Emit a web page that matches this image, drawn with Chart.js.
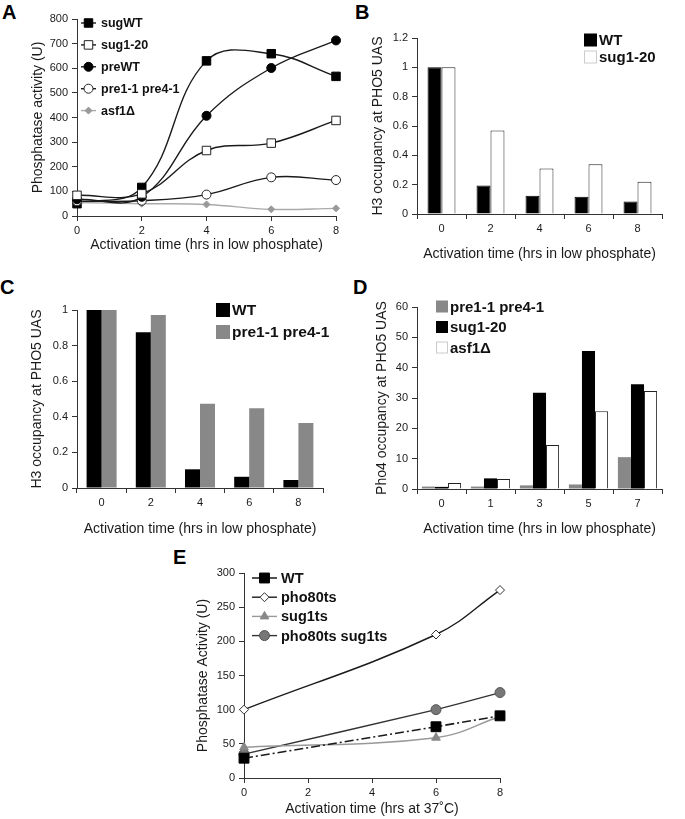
<!DOCTYPE html>
<html><head><meta charset="utf-8">
<script src="https://cdn.jsdelivr.net/npm/chart.js@4/dist/chart.umd.min.js"></script>
<style>
html,body{margin:0;padding:0;background:#fff}
body{width:685px;height:819px;position:relative;overflow:hidden;font-family:"Liberation Sans",Arial,sans-serif}
canvas{position:absolute}
.lbl{position:absolute;font:bold 20px/20px "Liberation Sans",Arial,sans-serif;color:#000}
</style></head><body>
<div class="lbl" style="left:2px;top:2px">A</div>
<div class="lbl" style="left:355px;top:2px">B</div>
<div class="lbl" style="left:0px;top:277px">C</div>
<div class="lbl" style="left:353px;top:277px">D</div>
<div class="lbl" style="left:173px;top:547px">E</div>
<canvas id="cA"></canvas>
<canvas id="cB"></canvas>
<canvas id="cC"></canvas>
<canvas id="cD"></canvas>
<canvas id="cE"></canvas>
<script>
// ---------- DATA ----------
const A_times = [0, 2, 4, 6, 8];
const A_sugWT = [50, 116, 630, 659, 567];
const A_sug120 = [84, 90, 266, 296, 388];
const A_preWT = [68, 78, 407, 601, 713];
const A_pre11 = [60, 62, 87, 157, 146];
const A_asf1 = [55, 50, 47, 27, 31];

const B_cats = ['0', '2', '4', '6', '8'];
const B_WT = [1.0, 0.195, 0.125, 0.118, 0.085];
const B_sug120 = [1.0, 0.57, 0.31, 0.34, 0.22];

const C_cats = ['0', '2', '4', '6', '8'];
const C_WT = [1.0, 0.875, 0.105, 0.063, 0.045];
const C_pre = [1.0, 0.972, 0.473, 0.448, 0.365];

const D_cats = ['0', '1', '3', '5', '7'];
const D_pre = [0.8, 0.8, 1.2, 1.5, 10.5];
const D_sug120 = [0.7, 3.5, 31.7, 45.5, 34.5];
const D_asf1 = [2.0, 3.3, 14.5, 25.6, 32.3];

const E_times = [0, 6, 8];
const E_WT = [29, 75, 91];
const E_pho80 = [100, 210, 275];
const E_sug1ts = [45, 59, 90];
const E_both = [35, 100, 125];

// ---------- SETUP ----------
const F = '"Liberation Sans", Arial, sans-serif';
Chart.defaults.font.family = F;
Chart.defaults.color = '#1a1a1a';
Chart.defaults.animation = false;

function marker(ctx, style, r, x, y) {
  ctx.beginPath();
  if (style === 'rect') {
    const s = Math.SQRT1_2 * r;
    ctx.rect(x - s, y - s, 2 * s, 2 * s);
  } else if (style === 'rectRot') {
    ctx.moveTo(x - r, y); ctx.lineTo(x, y - r); ctx.lineTo(x + r, y); ctx.lineTo(x, y + r); ctx.closePath();
  } else if (style === 'triangle') {
    const a = -Math.PI / 2;
    for (let i = 0; i < 3; i++) {
      const ang = a + i * 2 * Math.PI / 3;
      const px = x + Math.cos(ang) * r, py = y + Math.sin(ang) * r;
      if (i === 0) ctx.moveTo(px, py); else ctx.lineTo(px, py);
    }
    ctx.closePath();
  } else {
    ctx.arc(x, y, r, 0, Math.PI * 2);
  }
  ctx.fill();
  ctx.stroke();
}

const customLegend = {
  id: 'customLegend',
  afterDraw(chart, args, L) {
    if (!L || !L.order) return;
    const ctx = chart.ctx;
    const ox = L.ox, oy = L.oy;
    ctx.save();
    ctx.font = 'bold ' + L.size + 'px ' + F;
    ctx.textBaseline = 'middle';
    ctx.textAlign = 'left';
    L.order.forEach((di, i) => {
      const ds = chart.data.datasets[di];
      const y = L.y + i * L.dy - oy;
      if (L.kind === 'line') {
        ctx.save();
        ctx.strokeStyle = ds.borderColor;
        ctx.lineWidth = ds.borderWidth || 1.5;
        ctx.setLineDash(ds.borderDash || []);
        ctx.beginPath(); ctx.moveTo(L.x0 - ox, y); ctx.lineTo(L.x1 - ox, y); ctx.stroke();
        ctx.setLineDash([]);
        ctx.fillStyle = ds.pointBackgroundColor;
        ctx.strokeStyle = ds.pointBorderColor;
        ctx.lineWidth = ds.pointBorderWidth || 1;
        marker(ctx, ds.pointStyle, ds.pointRadius, (L.x0 + L.x1) / 2 - ox, y);
        ctx.restore();
      } else {
        ctx.fillStyle = ds.backgroundColor;
        ctx.fillRect(L.x0 - ox, y - L.sq / 2, L.sq, L.sq);
        if (ds.legendBorder) {
          ctx.strokeStyle = ds.legendBorder; ctx.lineWidth = 1;
          ctx.strokeRect(L.x0 - ox + 0.5, y - L.sq / 2 + 0.5, L.sq - 1, L.sq - 1);
        }
      }
      ctx.fillStyle = '#111';
      ctx.fillText(ds.label, L.tx - ox, y + 1);
    });
    ctx.restore();
  }
};
Chart.register(customLegend);

function axisBase() {
  return {
    grid: { display: true, drawOnChartArea: false, drawTicks: true, tickLength: 5, color: '#333', lineWidth: 1 },
    border: { display: true, color: '#333', width: 1 }
  };
}

const numFmt = v => String(Math.round(v * 1000) / 1000);

function makeChart(id, box, area, type, data, xOpt, yOpt, xTitle, yTitle, legend) {
  const cv = document.getElementById(id);
  cv.style.left = box.left + 'px'; cv.style.top = box.top + 'px';
  cv.width = box.w; cv.height = box.h;
  cv.style.width = box.w + 'px'; cv.style.height = box.h + 'px';
  const x = Object.assign(axisBase(), xOpt);
  x.ticks = Object.assign({ font: { size: 11 }, color: '#1a1a1a', padding: 3, maxRotation: 0, autoSkip: false }, xOpt.ticks || {});
  x.title = { display: true, text: xTitle, font: { size: 14 }, color: '#1a1a1a', padding: 0 };
  x.afterFit = s => { s.height = box.top + box.h - area.b; };
  const y = Object.assign(axisBase(), yOpt);
  y.position = 'left';
  y.ticks = Object.assign({ font: { size: 11 }, color: '#1a1a1a', padding: 4, callback: numFmt }, yOpt.ticks || {});
  y.title = { display: true, text: yTitle, font: { size: 14 }, color: '#1a1a1a', padding: 0 };
  y.afterFit = s => { s.width = area.l - box.left; };
  legend.ox = box.left; legend.oy = box.top;
  return new Chart(cv, {
    type, data,
    options: {
      responsive: false, devicePixelRatio: 1, animation: false,
      layout: { padding: { left: 0, bottom: 0, top: area.t - box.top, right: box.left + box.w - area.r } },
      plugins: { legend: { display: false }, tooltip: { enabled: false }, customLegend: legend },
      scales: { x, y }
    }
  });
}

function xy(xs, ys) { return xs.map((v, i) => ({ x: v, y: ys[i] })); }

function lineDs(label, xs, ys, o) {
  return Object.assign({
    label, data: xy(xs, ys), borderColor: '#1a1a1a', borderWidth: 1.4, tension: 0.4, clip: false,
    pointStyle: 'circle', pointRadius: 4.5, pointBorderWidth: 1,
    pointBackgroundColor: '#000', pointBorderColor: '#000', fill: false
  }, o);
}

// ---------- PANEL A ----------
makeChart('cA',
  { left: 30, top: 0, w: 315, h: 254 }, { l: 77, t: 19, r: 336, b: 216 }, 'line',
  { datasets: [
    lineDs('sugWT', A_times, A_sugWT, { pointStyle: 'rect', pointRadius: 6, order: 1 }),
    lineDs('sug1-20', A_times, A_sug120, { pointStyle: 'rect', pointRadius: 6, pointBackgroundColor: '#fff', pointBorderColor: '#222' }),
    lineDs('preWT', A_times, A_preWT, {}),
    lineDs('pre1-1 pre4-1', A_times, A_pre11, { pointBackgroundColor: '#fff', pointBorderColor: '#222' }),
    lineDs('asf1\u0394', A_times, A_asf1, { pointStyle: 'rectRot', pointRadius: 3.5, borderColor: '#aaa', pointBackgroundColor: '#999', pointBorderColor: '#999' })
  ]},
  { type: 'linear', min: 0, max: 8, ticks: { stepSize: 2 } },
  { type: 'linear', min: 0, max: 800, ticks: { stepSize: 100 } },
  'Activation time (hrs in low phosphate)', 'Phosphatase activity (U)',
  { kind: 'line', order: [0, 1, 2, 3, 4], x0: 81, x1: 96, tx: 101, y: 23, dy: 21.9, size: 12.5 }
);

// ---------- PANEL B ----------
makeChart('cB',
  { left: 370, top: 0, w: 315, h: 263 }, { l: 417, t: 38, r: 662, b: 214 }, 'bar',
  { labels: B_cats, datasets: [
    { label: 'WT', data: B_WT, backgroundColor: '#000', borderColor: '#000', borderWidth: 1, categoryPercentage: 0.57, barPercentage: 1 },
    { label: 'sug1-20', data: B_sug120, backgroundColor: '#fff', borderColor: '#222', borderWidth: 1, categoryPercentage: 0.57, barPercentage: 1, legendBorder: '#ccc' }
  ]},
  { type: 'category' },
  { type: 'linear', min: 0, max: 1.2, ticks: { stepSize: 0.2 } },
  'Activation time (hrs in low phosphate)', 'H3 occupancy at PHO5 UAS',
  { kind: 'box', order: [0, 1], x0: 584, sq: 13, tx: 599, y: 40, dy: 17, size: 15 }
);

// ---------- PANEL C ----------
makeChart('cC',
  { left: 29, top: 270, w: 316, h: 268 }, { l: 77, t: 310, r: 323, b: 488 }, 'bar',
  { labels: C_cats, datasets: [
    { label: 'WT', data: C_WT, backgroundColor: '#000', borderColor: '#000', borderWidth: 0, categoryPercentage: 0.61, barPercentage: 1 },
    { label: 'pre1-1 pre4-1', data: C_pre, backgroundColor: '#888', borderColor: '#888', borderWidth: 0, categoryPercentage: 0.61, barPercentage: 1 }
  ]},
  { type: 'category' },
  { type: 'linear', min: 0, max: 1, ticks: { stepSize: 0.2 } },
  'Activation time (hrs in low phosphate)', 'H3 occupancy at PHO5 UAS',
  { kind: 'box', order: [0, 1], x0: 216, sq: 14, tx: 232, y: 310, dy: 22, size: 15.5 }
);

// ---------- PANEL D ----------
makeChart('cD',
  { left: 374, top: 270, w: 311, h: 268 }, { l: 417, t: 307, r: 662, b: 489 }, 'bar',
  { labels: D_cats, datasets: [
    { label: 'pre1-1 pre4-1', data: D_pre, backgroundColor: '#888', borderColor: '#888', borderWidth: 0, categoryPercentage: 0.8, barPercentage: 1 },
    { label: 'sug1-20', data: D_sug120, backgroundColor: '#000', borderColor: '#000', borderWidth: 0, categoryPercentage: 0.8, barPercentage: 1 },
    { label: 'asf1\u0394', data: D_asf1, backgroundColor: '#fff', borderColor: '#222', borderWidth: 1, categoryPercentage: 0.8, barPercentage: 1, legendBorder: '#ccc' }
  ]},
  { type: 'category' },
  { type: 'linear', min: 0, max: 60, ticks: { stepSize: 10 } },
  'Activation time (hrs in low phosphate)', 'Pho4 occupancy at PHO5 UAS',
  { kind: 'box', order: [0, 1, 2], x0: 436, sq: 12, tx: 450, y: 306.5, dy: 20.5, size: 15 }
);

// ---------- PANEL E ----------
makeChart('cE',
  { left: 195, top: 548, w: 330, h: 270 }, { l: 244, t: 573, r: 500, b: 778 }, 'line',
  { datasets: [
    lineDs('WT', E_times, E_WT, { tension: 0, borderDash: [9, 3, 2, 3], borderWidth: 1.6, pointStyle: 'rect', pointRadius: 7 }),
    lineDs('pho80ts', E_times, E_pho80, { tension: 0.4, pointStyle: 'rectRot', pointRadius: 4.5, pointBackgroundColor: '#fff', pointBorderColor: '#333' }),
    lineDs('sug1ts', E_times, E_sug1ts, { tension: 0.4, borderColor: '#999', pointStyle: 'triangle', pointRadius: 5, pointBackgroundColor: '#888', pointBorderColor: '#888' }),
    lineDs('pho80ts sug1ts', E_times, E_both, { tension: 0.15, borderColor: '#333', pointRadius: 5, pointBackgroundColor: '#777', pointBorderColor: '#555' })
  ]},
  { type: 'linear', min: 0, max: 8, ticks: { stepSize: 2 } },
  { type: 'linear', min: 0, max: 300, ticks: { stepSize: 50 } },
  'Activation time (hrs at 37\u02DAC)', 'Phosphatase Activity (U)',
  { kind: 'line', order: [0, 1, 2, 3], x0: 252, x1: 277, tx: 281, y: 578, dy: 19.2, size: 14.5 }
);
</script>
</body></html>
